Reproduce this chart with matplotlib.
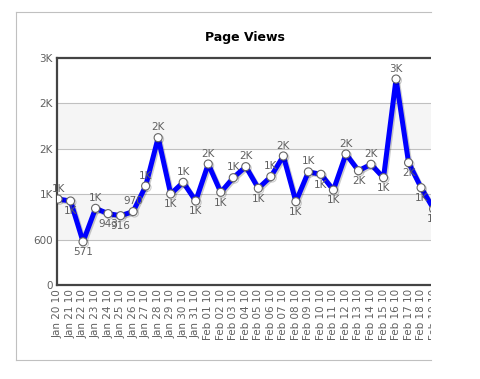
import math

import matplotlib
matplotlib.use("Agg")
import matplotlib.pyplot as plt
import matplotlib.patheffects as pe
from matplotlib.lines import Line2D
from matplotlib.patches import Rectangle

# page views per day
dates = [
    "Jan 20 10", "Jan 21 10", "Jan 22 10", "Jan 23 10", "Jan 24 10", "Jan 25 10",
    "Jan 26 10", "Jan 27 10", "Jan 28 10", "Jan 29 10", "Jan 30 10", "Jan 31 10",
    "Feb 01 10", "Feb 02 10", "Feb 03 10", "Feb 04 10", "Feb 05 10", "Feb 06 10",
    "Feb 07 10", "Feb 08 10", "Feb 09 10", "Feb 10 10", "Feb 11 10", "Feb 12 10",
    "Feb 13 10", "Feb 14 10", "Feb 15 10", "Feb 16 10", "Feb 17 10", "Feb 18 10",
    "Feb 19 10",
]
views = [
    1136, 1110, 571, 1013, 943, 916,
    970, 1308, 1947, 1203, 1357, 1110,
    1599, 1225, 1418, 1564, 1278, 1432,
    1705, 1101, 1495, 1463, 1255, 1731,
    1510, 1595, 1418, 2722, 1617, 1286,
    1004,
]
y_ticks = [0, 600, 1200, 1800, 2400, 3000]

GREY_TXT = "#606060"
W, H = 480, 379


def fmt(v):
    if v >= 1000:
        return f"{int(math.floor(v / 1000 + 0.5))}K"
    return f"{int(v)}"


fig = plt.figure(figsize=(W / 100, H / 100), dpi=100)
fig.patch.set_facecolor("white")

# plot area: left 57px, top 58px, bottom 285px, runs past the clipped right edge
ax = fig.add_axes([57 / W, (H - 285) / H, 401 / W, 227 / H])
x = list(range(len(views)))

ax.set_xlim(-0.08, -0.08 + 401 / 12.52)
ax.set_ylim(0, 3000)

# alternate grid bands
for lo, hi in zip(y_ticks[1::2], y_ticks[2::2]):
    ax.axhspan(lo, hi, color="#f5f5f5", zorder=0, lw=0)
for t in y_ticks[1:-1]:
    ax.axhline(t, color="#c0c0c0", lw=0.8, zorder=1)

ax.plot(
    x, views, color="#0000ff", lw=3.6, zorder=3,
    marker="o", ms=5.8, mfc="white", mec="#666666", mew=0.8,
    path_effects=[pe.SimpleLineShadow(offset=(1, -1), alpha=0.2), pe.Normal()],
)

# data labels: above if rising, below if falling
for i, v in enumerate(views):
    below = i > 0 and v < views[i - 1]
    ax.annotate(
        fmt(v), (i, v), xytext=(0, -7.5 if below else 7.5), textcoords="offset points",
        ha="center", va="center", fontsize=7.5, color=GREY_TXT, zorder=4,
    )

ax.set_yticks(y_ticks)
ax.set_yticklabels([fmt(t) for t in y_ticks])
ax.set_xticks(x)
ax.set_xticklabels(dates, rotation=90, va="top", ha="center")
ax.tick_params(axis="both", length=0, labelsize=7.5, labelcolor=GREY_TXT)
ax.tick_params(axis="x", pad=3)
ax.tick_params(axis="y", pad=3)

for side in ["left", "top", "bottom"]:
    ax.spines[side].set_color("#444444")
    ax.spines[side].set_linewidth(1.6)
ax.spines["right"].set_visible(False)

fig.text(245 / W, 1 - 38 / H, "Page Views", ha="center", va="center",
         fontsize=9, fontweight="bold", color="#000000")

# the reference is cut off at x=431: cover the rest
fig.add_artist(Rectangle((431 / W, 0), 1, 1, transform=fig.transFigure,
                         facecolor="white", edgecolor="none", zorder=50))

# outer light grey frame (no right side)
for xs, ys in [([16, 431], [12, 12]), ([16, 16], [12, 360]), ([16, 431], [360, 360])]:
    fig.add_artist(Line2D([v / W for v in xs], [1 - v / H for v in ys],
                          transform=fig.transFigure, color="#c0c0c0", lw=0.8, zorder=60))

fig.savefig("out.png", dpi=100)
